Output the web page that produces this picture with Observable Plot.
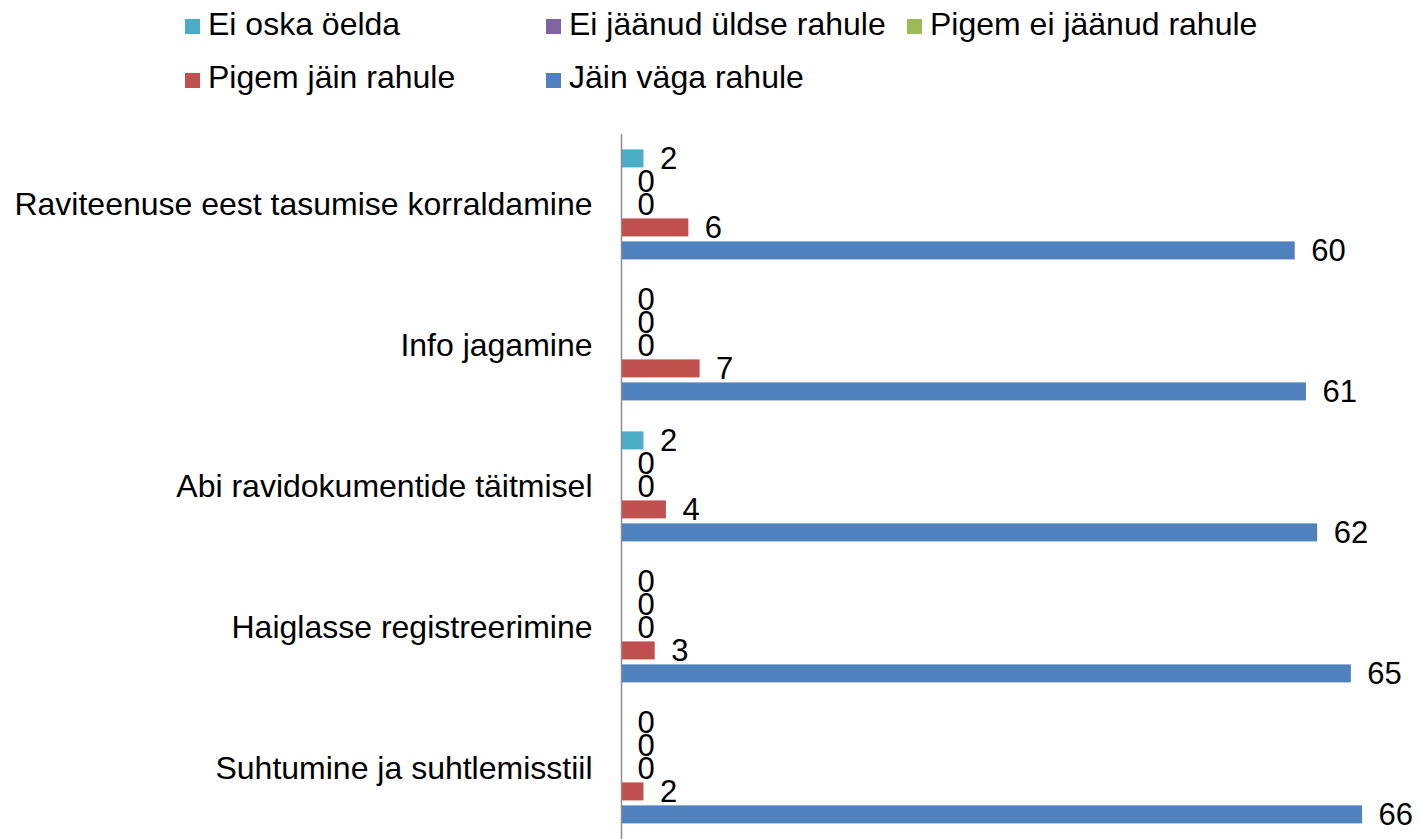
<!DOCTYPE html>
<html>
<head>
<meta charset="utf-8">
<script src="https://cdn.jsdelivr.net/npm/d3@7"></script>
<script src="https://cdn.jsdelivr.net/npm/@observablehq/plot@0.6"></script>
<style>
  html, body { margin: 0; padding: 0; background: #fff; }
  body { width: 1420px; height: 839px; position: relative; overflow: hidden;
         font-family: "Liberation Sans", Arial, sans-serif; color: #000; }
  .sw { position: absolute; width: 15px; height: 15px; }
  .lt { position: absolute; font-size: 32px; line-height: 32px; white-space: nowrap; }
  #chart { position: absolute; left: 0; top: 120px; }
</style>
</head>
<body>
<div id="legend"></div>
<div id="chart"></div>
<script>
const categories = [
  "Raviteenuse eest tasumise korraldamine",
  "Info jagamine",
  "Abi ravidokumentide täitmisel",
  "Haiglasse registreerimine",
  "Suhtumine ja suhtlemisstiil"
];
const series = [
  "Ei oska öelda",
  "Ei jäänud üldse rahule",
  "Pigem ei jäänud rahule",
  "Pigem jäin rahule",
  "Jäin väga rahule"
];
const colors = ["#4BACC6", "#8064A2", "#9BBB59", "#C0504D", "#4F81BD"];
const eiOskaOelda = [2, 0, 2, 0, 0];
const eiJaanudUldseRahule = [0, 0, 0, 0, 0];
const pigemEiJaanudRahule = [0, 0, 0, 0, 0];
const pigemJainRahule = [6, 7, 4, 3, 2];
const jainVagaRahule = [60, 61, 62, 65, 66];

const seriesValues = [eiOskaOelda, eiJaanudUldseRahule, pigemEiJaanudRahule, pigemJainRahule, jainVagaRahule];
const data = [];
categories.forEach((c, i) => {
  series.forEach((s, j) => {
    data.push({category: c, series: s, value: seriesValues[j][i]});
  });
});

// Legend (HTML, above the SVG)
const legendPos = [
  {sx: 185, sy: 19, tx: 208, ty: 8},
  {sx: 546, sy: 19, tx: 569, ty: 8},
  {sx: 907, sy: 19, tx: 930, ty: 8},
  {sx: 185, sy: 73, tx: 208, ty: 61},
  {sx: 546, sy: 73, tx: 569, ty: 61}
];
const legend = document.getElementById("legend");
series.forEach((s, j) => {
  const p = legendPos[j];
  const sw = document.createElement("div");
  sw.className = "sw";
  sw.style.left = p.sx + "px";
  sw.style.top = p.sy + "px";
  sw.style.background = colors[j];
  legend.appendChild(sw);
  const t = document.createElement("div");
  t.className = "lt";
  t.style.left = p.tx + "px";
  t.style.top = p.ty + "px";
  t.textContent = s;
  legend.appendChild(t);
});

const chart = Plot.plot({
  width: 1420,
  height: 719,
  marginTop: 13.6,
  marginBottom: 0,
  marginLeft: 621,
  marginRight: 13,
  style: {fontFamily: "Liberation Sans, Arial, sans-serif", color: "#000", background: "#fff"},
  x: {domain: [0, 70], axis: null},
  y: {domain: series, paddingInner: 0.2, paddingOuter: 0.57, axis: null},
  fy: {domain: categories, padding: 0, axis: null},
  color: {domain: series, range: colors},
  marks: [
    Plot.axisFy({anchor: "left", tickSize: 0, tickPadding: 29, fontSize: 32, label: null, fill: "#000"}),
    Plot.barX(data, {fy: "category", y: "series", x: "value", fill: "series"}),
    Plot.ruleX([0], {stroke: "#8c8c8c", strokeWidth: 1.5}),
    Plot.text(data, {fy: "category", y: "series", x: "value", text: d => String(d.value),
      textAnchor: "start", dx: 16, fontSize: 31, fill: "#000"})
  ]
});
document.getElementById("chart").appendChild(chart);
</script>
</body>
</html>
